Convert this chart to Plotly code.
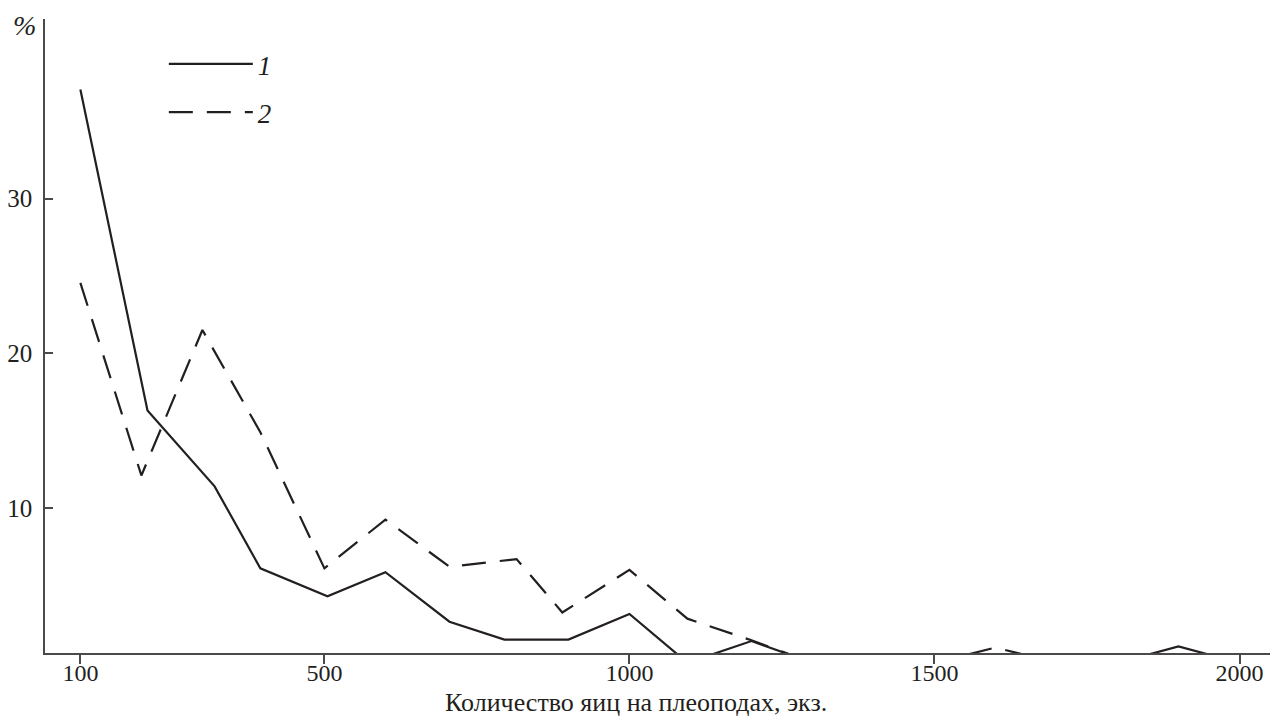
import plotly.graph_objects as go

# Series 1 (solid) and series 2 (dashed): egg-count classes and percentages
x1 = [100, 210, 320, 395, 505, 600, 705, 795, 900, 1000, 1095, 1200, 1300, 1400, 1500, 1600, 1700, 1800, 1900, 2000]
y1 = [37.05, 16.3, 11.4, 6.1, 4.3, 5.85, 2.65, 1.5, 1.5, 3.15, 0, 1.4, 0, 0, 0, 0, 0, 0, 1.05, 0]

x2 = [100, 200, 300, 395, 500, 600, 705, 815, 890, 1000, 1095, 1200, 1300, 1400, 1500, 1600, 1700, 1800, 1900, 2000]
y2 = [24.55, 12.1, 21.5, 14.9, 6.1, 9.25, 6.2, 6.7, 3.25, 6.0, 2.85, 1.45, 0, 0, 0, 0.98, 0, 0, 0, 0]

series_names = ["<i>1</i>", "<i>2</i>"]
x_tick_vals = [100, 500, 1000, 1500, 2000]
y_tick_vals = [10, 20, 30]
x_title = "Количество яиц на плеоподах, экз."
y_title = "%"

FONT = "Liberation Serif"
INK = "#231f20"
AXIS = "#4a4a4a"

fig = go.Figure()
fig.add_trace(go.Scatter(x=x1, y=y1, mode="lines", name=series_names[0], legendgroup="a",
                         line=dict(color=INK, width=2.2)))
fig.add_trace(go.Scatter(x=x2, y=y2, mode="lines", name=series_names[1], legendgroup="b",
                         line=dict(color=INK, width=2.2, dash="24px,14px")))

fig.update_layout(
    width=1270, height=719,
    margin=dict(l=45, r=0, t=19, b=66, pad=0),
    paper_bgcolor="white", plot_bgcolor="white",
    font=dict(family=FONT, size=25, color=INK),
    showlegend=True,
    legend=dict(x=0.097, y=0.967, xanchor="left", yanchor="top",
                bgcolor="rgba(0,0,0,0)", borderwidth=0,
                itemwidth=84, tracegroupgap=10,
                font=dict(family=FONT, size=27, color=INK)),
    xaxis=dict(range=[42, 2050], tickvals=x_tick_vals,
               ticks="outside", ticklen=9, tickwidth=1.5, tickcolor=AXIS,
               showline=True, linecolor=AXIS, linewidth=1.5,
               showgrid=False, zeroline=False, ticklabelstandoff=-12,
               tickfont=dict(family=FONT, size=24, color=INK)),
    yaxis=dict(range=[0.63, 41.6], tickvals=y_tick_vals,
               ticks="inside", ticklen=8, tickwidth=1.5, tickcolor=AXIS,
               showline=True, linecolor=AXIS, linewidth=1.5,
               showgrid=False, zeroline=False, ticklabelstandoff=6,
               tickfont=dict(family=FONT, size=25, color=INK)),
    annotations=[
        dict(text=x_title, xref="paper", yref="paper", x=0.4824, y=-0.1041,
             xanchor="center", yanchor="bottom", showarrow=False,
             font=dict(family=FONT, size=26, color=INK)),
        dict(text="<i>" + y_title + "</i>", xref="paper", yref="paper", x=-0.017, y=0.989,
             xanchor="center", yanchor="middle", showarrow=False,
             font=dict(family=FONT, size=28, color=INK)),
    ],
)

fig.write_html("out.html")
